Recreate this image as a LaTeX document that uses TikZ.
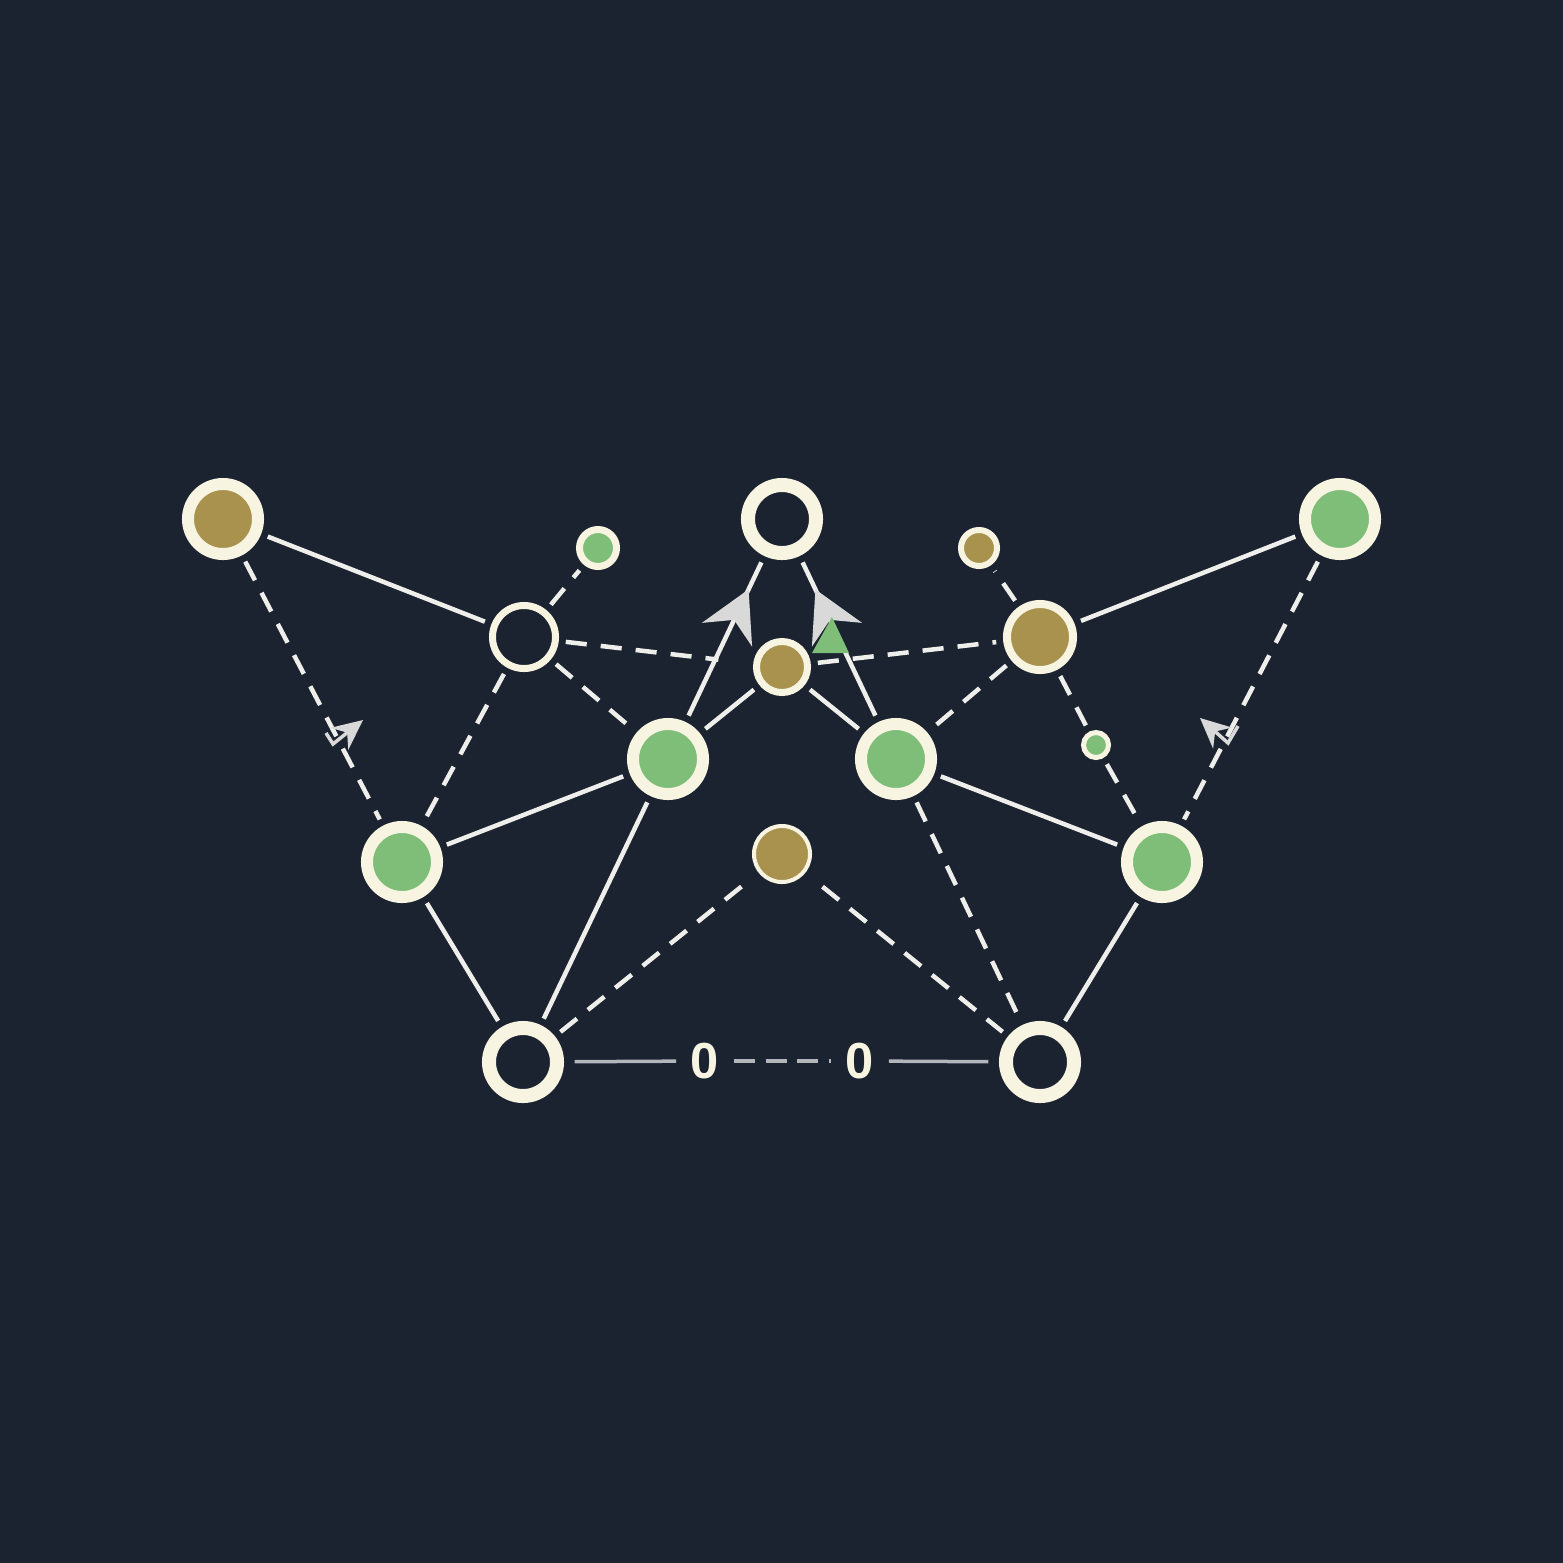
\documentclass[tikz,border=0pt]{standalone}
\usepackage{fontspec}
\newfontfamily\zerofont{Liberation Sans}
\usetikzlibrary{arrows.meta,decorations.markings}
\definecolor{bgdark}{HTML}{1C2330}
\definecolor{ivory}{HTML}{F7F4E2}
\definecolor{leaf}{HTML}{7EBE78}
\definecolor{khaki}{HTML}{A8924E}
\definecolor{linkwhite}{HTML}{EEEEEA}
\definecolor{tipgray}{HTML}{D9D9D9}
\definecolor{basegray}{HTML}{B3B6BA}
\begin{document}
\begin{tikzpicture}[x=0.01cm,y=-0.01cm,
  dot/.style={circle,draw=ivory,inner sep=0pt},
  bigdot/.style={dot,minimum size=0.70cm,line width=0.12cm},
  ringdot/.style={dot,fill=bgdark,minimum size=0.68cm,line width=0.14cm},
  zero/.style={text=ivory,font=\zerofont\bfseries\Large,inner sep=1pt},
  link/.style={draw=linkwhite,line width=0.045cm,shorten <=2pt,shorten >=2pt},
  dlink/.style={link,dash pattern=on 6pt off 4pt},
  baselink/.style={draw=basegray,line width=0.035cm,shorten <=3pt,shorten >=3pt},
  tipmark/.style={postaction={decorate,decoration={markings,
    mark=at position #1 with {\arrow{Stealth[length=0.5cm,width=0.55cm,color=tipgray]}}}}},
  smallarrow/.style={draw=tipgray,line width=0.035cm,-{Stealth[length=0.3cm,width=0.28cm]}}]
\fill[bgdark] (0,0) rectangle (1563,1563);
\useasboundingbox (0,0) rectangle (1563,1563);
% outer and upper nodes
\node[bigdot,fill=khaki] (tl) at (223,519) {};
\node[bigdot,fill=leaf] (tr) at (1340,519) {};
\node[ringdot] (top) at (782,519) {};
\node[dot,fill=leaf,minimum size=0.37cm,line width=0.07cm] (sg) at (598,548) {};
\node[dot,fill=khaki,minimum size=0.36cm,line width=0.06cm] (sk) at (979,548) {};
\node[dot,fill=bgdark,minimum size=0.63cm,line width=0.07cm] (rl) at (524,637) {};
\node[dot,fill=khaki,minimum size=0.66cm,line width=0.08cm] (kr) at (1040,637) {};
\node[dot,fill=khaki,minimum size=0.51cm,line width=0.07cm] (kc) at (782,667) {};
% middle row
\node[bigdot,fill=leaf] (gml) at (668,759) {};
\node[bigdot,fill=leaf] (gmr) at (896,759) {};
\node[dot,fill=leaf,minimum size=0.25cm,line width=0.05cm] (tg) at (1096,745) {};
\node[bigdot,fill=leaf] (gl) at (402,862) {};
\node[bigdot,fill=leaf] (gr) at (1162,862) {};
\node[dot,fill=khaki,minimum size=0.56cm,line width=0.04cm] (kl) at (782,854) {};
% bottom row
\node[ringdot] (bl) at (523,1062) {};
\node[ringdot] (br) at (1040,1062) {};
\node[zero] (za) at (705,1061) {0};
\node[zero] (zb) at (860,1061) {0};
% links
\draw[link] (tl) -- (rl);
\draw[dlink] (tl) -- (gl);
\draw[dlink] (rl) -- (sg);
\draw[dlink] (rl) -- (gl);
\draw[dlink] (rl) -- (gml);
\draw[dlink,shorten >=0.35cm] (rl) -- (kc);
\draw[dlink] (kc) -- (kr);
\draw[link,tipmark=0.8] (gml) -- (top);
\draw[link,tipmark=0.8] (gmr) -- (top);
\draw[link] (gml) -- (kc);
\draw[link] (gmr) -- (kc);
\draw[link] (gml) -- (gl);
\draw[link] (gmr) -- (gr);
\draw[link] (kr) -- (tr);
\draw[dlink] (tr) -- (gr);
\draw[dlink] (kr) -- (sk);
\draw[dlink] (kr) -- (gmr);
\draw[dlink] (kr) -- (tg);
\draw[dlink] (tg) -- (gr);
\draw[link] (gl) -- (bl);
\draw[link] (gml) -- (bl);
\draw[dlink,shorten <=0.22cm] (kl) -- (bl);
\draw[dlink,shorten <=0.22cm] (kl) -- (br);
\draw[dlink] (gmr) -- (br);
\draw[link] (gr) -- (br);
\draw[baselink] (bl) -- (za);
\draw[baselink,dash pattern=on 6pt off 3pt] (za) -- (zb);
\draw[baselink] (zb) -- (br);
% green wedge by the right tip
\fill[leaf] (812,653) -- (849,653) -- (832,617) -- cycle;
% little side arrows
\coordinate (lak) at (326,733);
\coordinate (las) at (333,744);
\coordinate (lat) at (363,720);
\draw[smallarrow] (lak) -- (las) -- (lat);
\coordinate (rak) at (1238,726);
\coordinate (ras) at (1228,743);
\coordinate (rat) at (1200,718);
\draw[smallarrow] (rak) -- (ras) -- (rat);
\end{tikzpicture}
\end{document}
